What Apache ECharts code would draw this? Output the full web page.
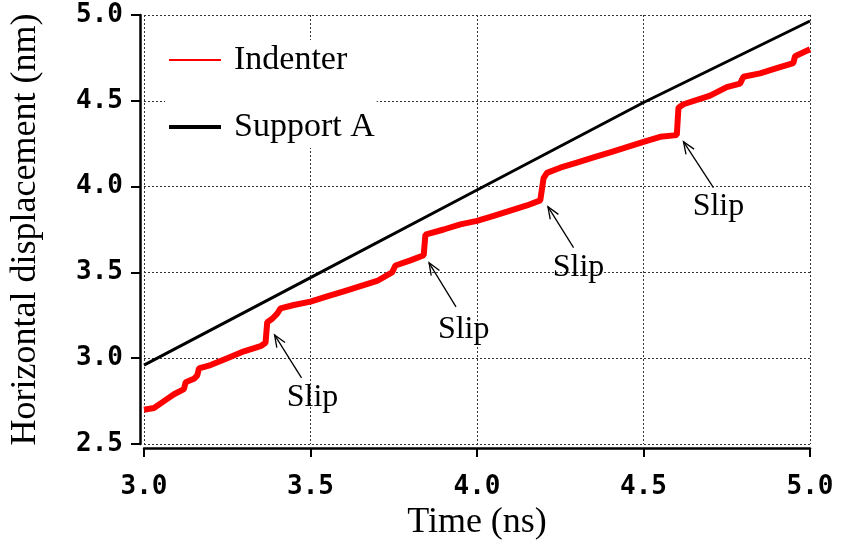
<!DOCTYPE html>
<html><head><meta charset="utf-8">
<script src="https://cdn.jsdelivr.net/npm/echarts@6/dist/echarts.min.js"></script>
<style>html,body{margin:0;padding:0;background:#fff}#c{width:842px;height:548px}</style>
</head><body><div id="c"></div>
<script>
// ---- data ----
const timeIndenter = [3.00,3.03,3.06,3.09,3.12,3.125,3.15,3.16,3.165,3.20,3.25,3.30,3.35,3.365,3.37,3.385,3.40,3.41,3.45,3.50,3.55,3.60,3.65,3.70,3.745,3.755,3.80,3.84,3.845,3.90,3.95,4.00,4.05,4.10,4.15,4.19,4.20,4.21,4.25,4.30,4.35,4.40,4.45,4.50,4.55,4.60,4.605,4.62,4.70,4.75,4.79,4.80,4.85,4.90,4.95,4.955,5.00];
const dispIndenter = [2.70,2.71,2.75,2.79,2.82,2.86,2.88,2.90,2.94,2.96,3.00,3.04,3.07,3.09,3.21,3.23,3.26,3.29,3.31,3.33,3.36,3.39,3.42,3.45,3.50,3.54,3.57,3.60,3.72,3.75,3.78,3.80,3.83,3.86,3.89,3.92,4.05,4.08,4.11,4.14,4.17,4.20,4.23,4.26,4.29,4.30,4.46,4.48,4.53,4.58,4.60,4.64,4.66,4.69,4.72,4.76,4.80];
const timeSupport = [3.0,3.5,4.0,4.5,5.0];
const dispSupport = [2.96,3.47,3.98,4.49,4.965];
const seriesNames = ['Indenter','Support A'];
const slipLabels = ['Slip','Slip','Slip','Slip'];
const slipTips = [[3.392,3.136],[3.856,3.556],[4.213,3.883],[4.620,4.262]];
const slipTails = [[3.473,2.885],[3.937,3.299],[4.290,3.644],[4.710,3.994]];
const slipText = [[3.506,2.768],[3.960,3.165],[4.305,3.527],[4.725,3.883]];
const xTicks = [3.0,3.5,4.0,4.5,5.0];
const yTicks = [2.5,3.0,3.5,4.0,4.5,5.0];

const chart = echarts.init(document.getElementById('c'), null, {renderer:'canvas'});
const tickFont = {fontFamily:'"DejaVu Sans Mono", monospace', fontWeight:'bold', fontSize:26, color:'#000'};
const serif = '"Liberation Serif", "Times New Roman", serif';

chart.setOption({
  animation:false,
  backgroundColor:'#fff',
  grid:{left:142, right:32, top:15, bottom:104, containLabel:false},
  legend:{
    orient:'vertical', left:165, top:40,
    backgroundColor:'#fff', padding:[3,2,4,4],
    itemWidth:52, itemHeight:14, itemGap:33, symbolKeepAspect:true,
    textStyle:{fontFamily:serif, fontSize:34, color:'#000', padding:[0,0,0,8]},
    data:[
      {name:seriesNames[0], icon:'path://M0,0H52V2H0Z', itemStyle:{color:'#ff0000'}},
      {name:seriesNames[1], icon:'path://M0,0H52V4H0Z', itemStyle:{color:'#000'}}
    ]
  },
  xAxis:{
    type:'value', min:xTicks[0], max:xTicks[xTicks.length-1], interval:0.5, offset:4,
    name:'Time (ns)', nameLocation:'middle', nameGap:56,
    nameTextStyle:{fontFamily:serif, fontSize:36, color:'#000'},
    axisLine:{show:true, onZero:false, lineStyle:{color:'#000', width:2.5}},
    axisTick:{show:true, inside:false, length:9, lineStyle:{color:'#000', width:2}},
    axisLabel:Object.assign({margin:26, formatter:v=>v.toFixed(1)}, tickFont),
    splitLine:{show:true, lineStyle:{type:[2,2], color:'#333', width:1}}
  },
  yAxis:{
    type:'value', min:yTicks[0], max:yTicks[yTicks.length-1], interval:0.5, offset:4,
    name:'Horizontal displacement (nm)', nameLocation:'middle', nameGap:96,
    nameTextStyle:{fontFamily:serif, fontSize:36, color:'#000'},
    axisLine:{show:true, onZero:false, lineStyle:{color:'#000', width:2.5}},
    axisTick:{show:true, inside:false, length:9, lineStyle:{color:'#000', width:2}},
    axisLabel:Object.assign({margin:17, formatter:v=>v.toFixed(1)}, tickFont),
    splitLine:{show:true, lineStyle:{type:[2,2], color:'#333', width:1}}
  },
  series:[
    {name:seriesNames[0], type:'line', symbol:'none', z:3,
     data:timeIndenter.map((t,i)=>[t,dispIndenter[i]]),
     lineStyle:{color:'#ff0000', width:6}, itemStyle:{color:'#ff0000'}},
    {name:seriesNames[1], type:'line', symbol:'none', z:4,
     data:timeSupport.map((t,i)=>[t,dispSupport[i]]),
     lineStyle:{color:'#000', width:3}, itemStyle:{color:'#000'}}
  ]
});

// annotations: arrows + "Slip" labels, positioned in data coordinates
const elems = [];
slipTips.forEach((tip,i)=>{
  const p1 = chart.convertToPixel({gridIndex:0}, slipTails[i]);
  const p2 = chart.convertToPixel({gridIndex:0}, tip);
  const ang = Math.atan2(p2[1]-p1[1], p2[0]-p1[0]);
  const L = 13, a = 0.38;
  const h1 = [p2[0]-L*Math.cos(ang-a), p2[1]-L*Math.sin(ang-a)];
  const h2 = [p2[0]-L*Math.cos(ang+a), p2[1]-L*Math.sin(ang+a)];
  elems.push({type:'polyline', z:100, shape:{points:[p1,p2]}, style:{stroke:'#000', lineWidth:1.3, fill:null}});
  elems.push({type:'polyline', z:100, shape:{points:[h1,p2,h2]}, style:{stroke:'#000', lineWidth:1.3, fill:null}});
  const pt = chart.convertToPixel({gridIndex:0}, slipText[i]);
  elems.push({type:'text', z:100, x:pt[0], y:pt[1], style:{text:slipLabels[i], fontFamily:serif, fontSize:32, fill:'#000', align:'center', verticalAlign:'middle', textAlign:'center', textVerticalAlign:'middle'}});
});
chart.setOption({graphic:elems});
</script>
</body></html>
